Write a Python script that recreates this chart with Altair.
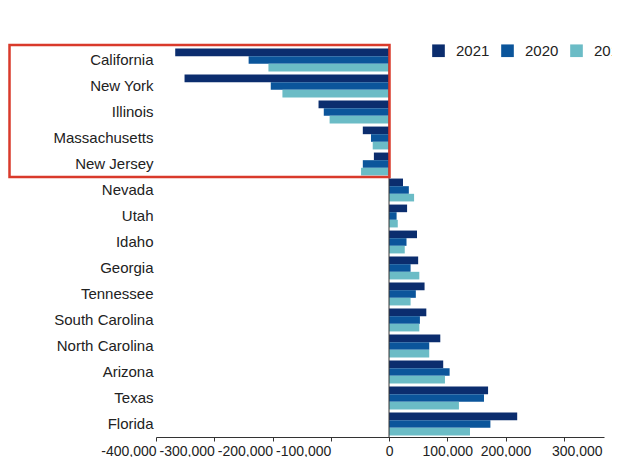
import altair as alt
import pandas as pd

states = ["California", "New York", "Illinois", "Massachusetts", "New Jersey",
          "Nevada", "Utah", "Idaho", "Georgia", "Tennessee", "South Carolina",
          "North Carolina", "Arizona", "Texas", "Florida"]
years = ["2021", "2020", "2019"]
v2021 = [-367000, -351000, -121000, -45000, -26000, 24000, 31000, 48000, 50000,
         61000, 64000, 88000, 93000, 170000, 220000]
v2020 = [-241000, -203000, -112000, -31000, -45000, 34000, 13000, 30000, 37000,
         46000, 53000, 69000, 104000, 163000, 174000]
v2019 = [-207000, -183000, -102000, -28000, -48000, 43000, 15000, 27000, 52000,
         37000, 52000, 69000, 96000, 120000, 139000]
colors = ["#0b2d6e", "#0b559b", "#6bbcc6"]
x_ticks = [-400000, -300000, -200000, -100000, 0, 100000, 200000, 300000]

rows = []
for yr, vals in zip(years, [v2021, v2020, v2019]):
    for s, v in zip(states, vals):
        rows.append({"state": s, "year": yr, "value": v})
df = pd.DataFrame(rows)

FONT = "Liberation Sans"

label_align = {"condition": {"test": "datum.value < 0", "value": "right"},
               "value": "center"}
label_offset = {"condition": {"test": "datum.value == 300000", "value": 13},
                "value": 0}

bars = alt.Chart(df).mark_bar().encode(
    x=alt.X("value:Q",
            scale=alt.Scale(domain=[-400000, 369000], nice=False, zero=False),
            axis=alt.Axis(values=x_ticks, title=None, grid=False,
                          labelExpr="datum.value < 0 ? '-' + format(-datum.value, ',') : format(datum.value, ',')",
                          labelAlign=label_align, labelOffset=label_offset,
                          labelFontSize=14, labelColor="#222", tickSize=4,
                          tickColor="#333", domainColor="#333", labelPadding=3,
                          labelOverlap=False, labelFlush=False)),
    y=alt.Y("state:N", sort=states,
            scale=alt.Scale(paddingInner=0.12, paddingOuter=0.06),
            axis=alt.Axis(title=None, ticks=False, domain=False, labelFontSize=15,
                          labelColor="#222", labelPadding=3)),
    yOffset=alt.YOffset("year:N", sort=years),
    color=alt.Color("year:N", sort=years,
                    scale=alt.Scale(domain=years, range=colors),
                    legend=alt.Legend(title=None, orient="none", legendX=275,
                                      legendY=-4, direction="horizontal",
                                      symbolType="square", symbolSize=160,
                                      symbolStrokeWidth=0, labelFontSize=15,
                                      labelColor="#222", labelOffset=10,
                                      columnPadding=10, padding=0)),
)

zero = alt.Chart(pd.DataFrame({"x": [0]})).mark_rule(color="#333", strokeWidth=1).encode(
    x="x:Q"
)

box = alt.Chart(pd.DataFrame({"a": [0]})).mark_rect(
    fillOpacity=0, stroke="#d93a2b", strokeWidth=2.5, clip=False
).encode(
    x=alt.value(-146.5), x2=alt.value(233.5), y=alt.value(-2), y2=alt.value(130)
)

chart = alt.layer(bars, zero, box).properties(
    width=448, height=390,
    autosize=alt.AutoSizeParams(type="none"),
    padding={"left": 148, "top": 39, "right": 8, "bottom": 20},
).configure(font=FONT).configure_view(stroke=None)

chart.save("out.html", embed_options={"renderer": "svg", "actions": False})
